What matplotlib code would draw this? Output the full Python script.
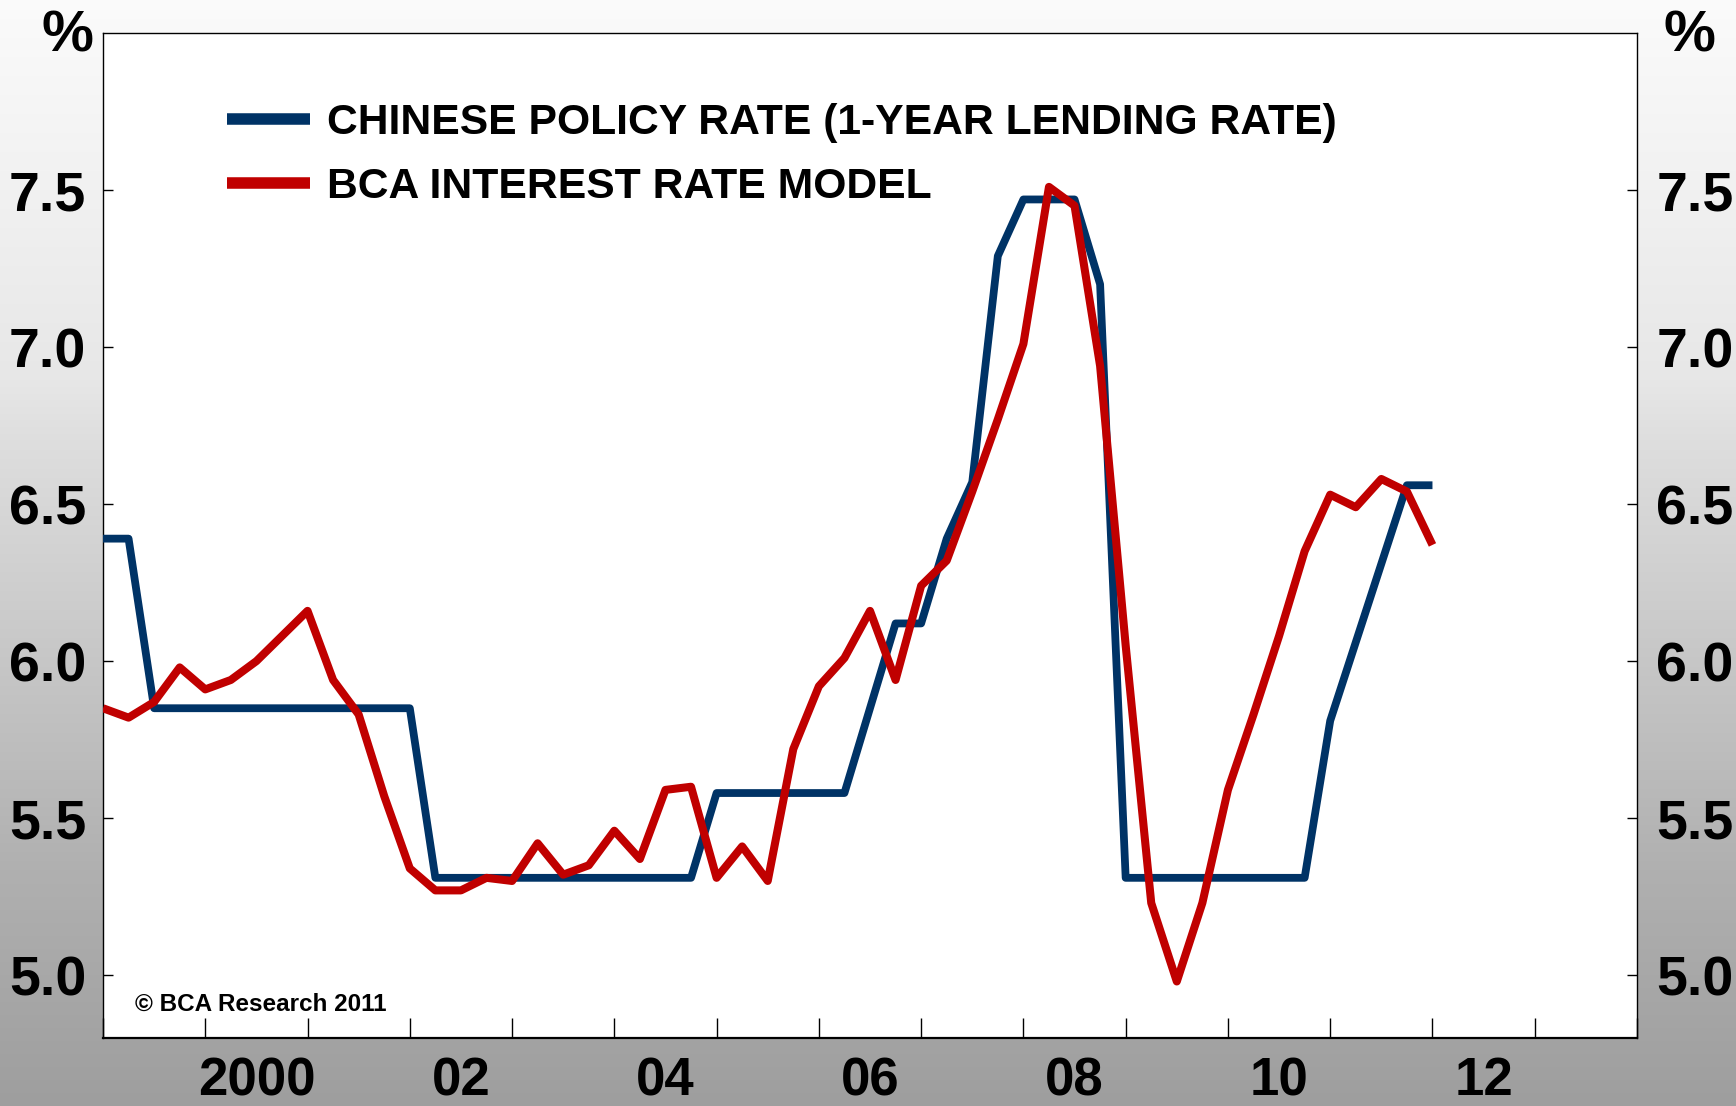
import matplotlib

matplotlib.use("Agg")
import matplotlib.pyplot as plt
import numpy as np
import pandas as pd
from matplotlib.lines import Line2D
from matplotlib.ticker import FixedLocator, FixedFormatter, NullFormatter

# quarterly observations, 1999Q1 .. 2012Q1
quarters = pd.period_range("1999Q1", "2012Q1", freq="Q")

policy_rate = [
    6.39, 6.39, 5.85, 5.85,            # 1999
    5.85, 5.85, 5.85, 5.85,            # 2000
    5.85, 5.85, 5.85, 5.85,            # 2001
    5.85, 5.31, 5.31, 5.31,            # 2002
    5.31, 5.31, 5.31, 5.31,            # 2003
    5.31, 5.31, 5.31, 5.31,            # 2004
    5.58, 5.58, 5.58, 5.58,            # 2005
    5.58, 5.58, 5.85, 6.12,            # 2006
    6.12, 6.39, 6.57, 7.29,            # 2007
    7.47, 7.47, 7.47, 7.20,            # 2008
    5.31, 5.31, 5.31, 5.31,            # 2009
    5.31, 5.31, 5.31, 5.31,            # 2010
    5.81, 6.06, 6.31, 6.56,            # 2011
    6.56,                              # 2012
]

bca_model = [
    5.85, 5.82, 5.87, 5.98,
    5.91, 5.94, 6.00, 6.08,
    6.16, 5.94, 5.83, 5.57,
    5.34, 5.27, 5.27, 5.31,
    5.30, 5.42, 5.32, 5.35,
    5.46, 5.37, 5.59, 5.60,
    5.31, 5.41, 5.30, 5.72,
    5.92, 6.01, 6.16, 5.94,
    6.24, 6.32, 6.54, 6.77,
    7.01, 7.51, 7.45, 6.94,
    6.05, 5.23, 4.98, 5.23,
    5.59, 5.83, 6.08, 6.35,
    6.53, 6.49, 6.58, 6.54,
    6.37,
]

series_labels = [
    "CHINESE POLICY RATE (1-YEAR LENDING RATE)",
    "BCA INTEREST RATE MODEL",
]
series_colors = ["#003366", "#C00000"]

y_ticks = [5.0, 5.5, 6.0, 6.5, 7.0, 7.5]
label_years = [2000, 2002, 2004, 2006, 2008, 2010, 2012]
year_labels = ["2000", "02", "04", "06", "08", "10", "12"]

FONT = ["Liberation Sans", "DejaVu Sans"]
plt.rcParams["font.family"] = FONT
plt.rcParams["font.weight"] = "bold"

x = np.array([q.year + (q.quarter - 1) / 4 for q in quarters])

W, H = 1736, 1106
fig = plt.figure(figsize=(W / 100, H / 100), dpi=100)

# grey vertical gradient behind everything
bg = fig.add_axes([0, 0, 1, 1], zorder=-10)
rows = np.arange(H)
shade = np.interp(rows, [0, 380, 440, 770, 870, H], [251, 231, 222, 187, 176, 158]) / 255
bg.imshow(np.repeat(shade[:, None], 4, axis=1)[:, :, None].repeat(3, axis=2),
          aspect="auto", extent=[0, 1, 0, 1], interpolation="bilinear")
bg.set_axis_off()

left, right, top, bottom = 103, 1637, 33, 1038
ax = fig.add_axes([left / W, (H - bottom) / H, (right - left) / W, (bottom - top) / H])
ax.set_facecolor("white")

ax.plot(x, policy_rate, color=series_colors[0], lw=5.6, solid_joinstyle="round",
        solid_capstyle="butt", zorder=3)
ax.plot(x, bca_model, color=series_colors[1], lw=5.8, solid_joinstyle="round",
        solid_capstyle="butt", zorder=4)

ax.set_xlim(1999, 2014)
ax.set_ylim(4.8, 8.0)

for side in ["left", "right", "top"]:
    ax.spines[side].set_linewidth(1.0)
ax.spines["bottom"].set_linewidth(1.6)

# x axis: year ticks inside, labels centred in the year
ax.xaxis.set_major_locator(FixedLocator(np.arange(1999, 2015)))
ax.xaxis.set_major_formatter(NullFormatter())
ax.xaxis.set_minor_locator(FixedLocator([yr + 0.5 for yr in label_years]))
ax.xaxis.set_minor_formatter(FixedFormatter(year_labels))
ax.tick_params(axis="x", which="major", direction="in", length=14.5, width=1.0)
ax.tick_params(axis="x", which="minor", length=0, pad=13, labelsize=38)

ax.set_yticks(y_ticks)
ax.set_yticklabels([f"{v:.1f}" for v in y_ticks])
ax.tick_params(axis="y", direction="in", length=7, width=1.0, labelsize=40, pad=12)

ax2 = ax.twinx()
ax2.set_ylim(ax.get_ylim())
ax2.set_yticks(y_ticks)
ax2.set_yticklabels([f"{v:.1f}" for v in y_ticks])
ax2.tick_params(axis="y", direction="in", length=7, width=1.0, labelsize=40, pad=14)
for side in ["left", "right", "top", "bottom"]:
    ax2.spines[side].set_visible(False)

fig.text(67 / W, 1 - 36 / H, "%", fontsize=42, ha="center", va="center")
fig.text(1689 / W, 1 - 36 / H, "%", fontsize=42, ha="center", va="center")

handles = [Line2D([], [], color=c, lw=8.3, solid_capstyle="butt") for c in series_colors]
ax.legend(handles, series_labels, loc="upper left",
          bbox_to_anchor=(227 / W, 1 - 103 / H), bbox_transform=fig.transFigure,
          frameon=False, fontsize=30.7, handlelength=1.95, handletextpad=0.4,
          borderpad=0, borderaxespad=0, labelspacing=0.56)

ax.text(135 / W, 1 - 1011 / H, "© BCA Research 2011", transform=fig.transFigure,
        fontsize=17.5, ha="left", va="baseline")

fig.savefig("out.png", dpi=100)
